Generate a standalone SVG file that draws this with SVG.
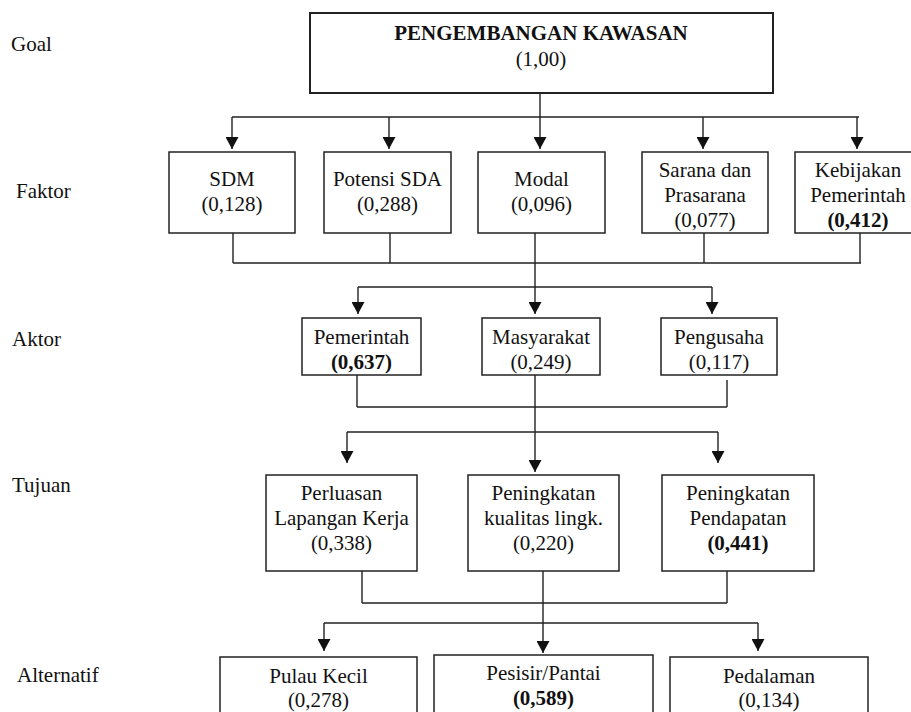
<svg xmlns="http://www.w3.org/2000/svg" width="911" height="712" viewBox="0 0 911 712">
<style>
text{font-family:"Liberation Serif","Times New Roman",Times,"DejaVu Serif",serif;font-size:21px;fill:#111}
.c{text-anchor:middle}
.b{font-weight:bold}
.box{fill:#fff;stroke:#222;stroke-width:1.5}
.goalbox{fill:#fff;stroke:#222;stroke-width:2}
.ln{fill:none;stroke:#222;stroke-width:1.4}
</style>
<defs>
<marker id="ah" markerUnits="userSpaceOnUse" markerWidth="13" markerHeight="13" refX="12" refY="6.5" orient="auto">
<path d="M0,0 L12,6.5 L0,13 Z" fill="#111"/>
</marker>
</defs>
<rect width="911" height="712" fill="#fff"/>

<g id="levels" font-family="Liberation Serif, serif">
<text x="11" y="51">Goal</text>
<text x="16" y="198">Faktor</text>
<text x="12" y="346">Aktor</text>
<text x="12" y="492">Tujuan</text>
<text x="17" y="682">Alternatif</text>
</g>

<g id="connectors">
<path class="ln" d="M232,117 H859"/>
<path class="ln" d="M540,93 V149" marker-end="url(#ah)"/>
<path class="ln" d="M232,117 V149" marker-end="url(#ah)"/>
<path class="ln" d="M389,117 V149" marker-end="url(#ah)"/>
<path class="ln" d="M703,117 V149" marker-end="url(#ah)"/>
<path class="ln" d="M857,117 V149" marker-end="url(#ah)"/>

<path class="ln" d="M233,233 V263 M390,233 V263 M704,233 V263 M860,233 V263 M233,263 H861"/>
<path class="ln" d="M535,233 V314" marker-end="url(#ah)"/>
<path class="ln" d="M358,287 H712"/>
<path class="ln" d="M358,287 V314" marker-end="url(#ah)"/>
<path class="ln" d="M712,287 V314" marker-end="url(#ah)"/>

<path class="ln" d="M357,375 V407 M727,380 V407 M357,407 H727"/>
<path class="ln" d="M535,375 V472" marker-end="url(#ah)"/>
<path class="ln" d="M347,432 H718"/>
<path class="ln" d="M347,432 V463" marker-end="url(#ah)"/>
<path class="ln" d="M718,432 V463" marker-end="url(#ah)"/>

<path class="ln" d="M362,571 V603 M727,571 V603 M362,603 H727"/>
<path class="ln" d="M543,571 V653" marker-end="url(#ah)"/>
<path class="ln" d="M324,623 H758"/>
<path class="ln" d="M324,623 V651" marker-end="url(#ah)"/>
<path class="ln" d="M758,623 V651" marker-end="url(#ah)"/>
</g>

<g id="goal">
<rect class="goalbox" x="310" y="13" width="463" height="80"/>
<text class="c b" x="541" y="40">PENGEMBANGAN KAWASAN</text>
<text class="c" x="541" y="66">(1,00)</text>
</g>

<g id="sdm">
<rect class="box" x="169" y="152" width="126" height="81"/>
<text class="c" x="232" y="186">SDM</text>
<text class="c" x="232" y="211">(0,128)</text>
</g>
<g id="potensi-sda">
<rect class="box" x="324" y="152" width="127" height="81"/>
<text class="c" x="387.5" y="186">Potensi SDA</text>
<text class="c" x="387.5" y="211">(0,288)</text>
</g>
<g id="modal">
<rect class="box" x="478" y="152" width="127" height="81"/>
<text class="c" x="541.5" y="186">Modal</text>
<text class="c" x="541.5" y="211">(0,096)</text>
</g>
<g id="sarana">
<rect class="box" x="642" y="152" width="126" height="81"/>
<text class="c" x="705" y="177">Sarana dan</text>
<text class="c" x="705" y="202">Prasarana</text>
<text class="c" x="705" y="227">(0,077)</text>
</g>
<g id="kebijakan">
<rect class="box" x="795" y="152" width="126" height="81"/>
<text class="c" x="858" y="177">Kebijakan</text>
<text class="c" x="858" y="202">Pemerintah</text>
<text class="c b" x="858" y="227">(0,412)</text>
</g>

<g id="pemerintah">
<rect class="box" x="302" y="318" width="119" height="57"/>
<text class="c" x="361.5" y="344">Pemerintah</text>
<text class="c b" x="361.5" y="369">(0,637)</text>
</g>
<g id="masyarakat">
<rect class="box" x="482" y="318" width="118" height="57"/>
<text class="c" x="541" y="344">Masyarakat</text>
<text class="c" x="541" y="369">(0,249)</text>
</g>
<g id="pengusaha">
<rect class="box" x="661" y="318" width="116" height="57"/>
<text class="c" x="719" y="344">Pengusaha</text>
<text class="c" x="719" y="369">(0,117)</text>
</g>

<g id="perluasan">
<rect class="box" x="266" y="475" width="151" height="96"/>
<text class="c" x="341.5" y="500">Perluasan</text>
<text class="c" x="341.5" y="525">Lapangan Kerja</text>
<text class="c" x="341.5" y="550">(0,338)</text>
</g>
<g id="kualitas">
<rect class="box" x="468" y="475" width="151" height="96"/>
<text class="c" x="543.5" y="500">Peningkatan</text>
<text class="c" x="543.5" y="525">kualitas lingk.</text>
<text class="c" x="543.5" y="550">(0,220)</text>
</g>
<g id="pendapatan">
<rect class="box" x="662" y="475" width="152" height="96"/>
<text class="c" x="738" y="500">Peningkatan</text>
<text class="c" x="738" y="525">Pendapatan</text>
<text class="c b" x="738" y="550">(0,441)</text>
</g>

<g id="pulau-kecil">
<rect class="box" x="220" y="657" width="197" height="70"/>
<text class="c" x="318.5" y="683">Pulau Kecil</text>
<text class="c" x="318.5" y="707">(0,278)</text>
</g>
<g id="pesisir">
<rect class="box" x="434" y="655" width="219" height="72"/>
<text class="c" x="543.5" y="680">Pesisir/Pantai</text>
<text class="c b" x="543.5" y="705">(0,589)</text>
</g>
<g id="pedalaman">
<rect class="box" x="670" y="657" width="198" height="70"/>
<text class="c" x="769" y="683">Pedalaman</text>
<text class="c" x="769" y="707">(0,134)</text>
</g>
</svg>
